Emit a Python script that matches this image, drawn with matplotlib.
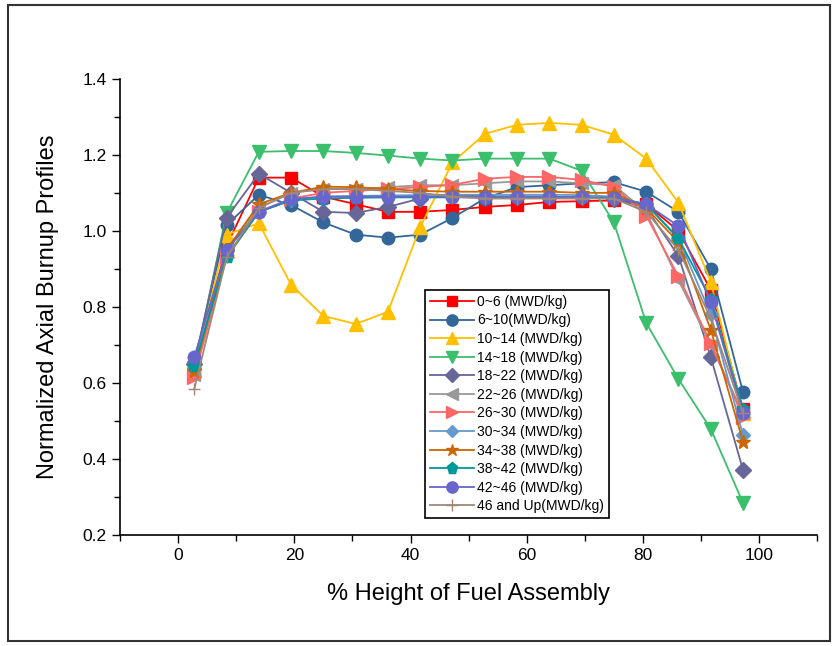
import numpy as np
import matplotlib.pyplot as plt
from matplotlib.patches import Rectangle
from matplotlib.ticker import MultipleLocator

plt.rcParams['font.family'] = ['Liberation Sans', 'DejaVu Sans']

# axial node centres, % of assembly height (18 nodes)
height = [2.78, 8.33, 13.89, 19.44, 25.0, 30.56, 36.11, 41.67, 47.22,
          52.78, 58.33, 63.89, 69.44, 75.0, 80.56, 86.11, 91.67, 97.22]

labels = ['0~6 (MWD/kg)', '6~10(MWD/kg)', '10~14 (MWD/kg)', '14~18 (MWD/kg)',
          '18~22 (MWD/kg)', '22~26 (MWD/kg)', '26~30 (MWD/kg)', '30~34 (MWD/kg)',
          '34~38 (MWD/kg)', '38~42 (MWD/kg)', '42~46 (MWD/kg)', '46 and Up(MWD/kg)']

b_0_6 = [0.63, 0.96, 1.14, 1.14, 1.09, 1.07, 1.05, 1.05, 1.055,
         1.063, 1.068, 1.076, 1.078, 1.08, 1.07, 1.00, 0.845, 0.53]
b_6_10 = [0.65, 1.015, 1.095, 1.068, 1.022, 0.99, 0.982, 0.99, 1.034,
          1.085, 1.115, 1.12, 1.125, 1.128, 1.103, 1.05, 0.90, 0.576]
b_10_14 = [0.64, 0.99, 1.02, 0.858, 0.776, 0.755, 0.787, 1.01, 1.18,
           1.255, 1.279, 1.284, 1.279, 1.253, 1.19, 1.074, 0.866, 0.52]
b_14_18 = [0.64, 1.046, 1.208, 1.21, 1.21, 1.205, 1.198, 1.19, 1.185,
           1.19, 1.19, 1.19, 1.158, 1.022, 0.758, 0.61, 0.479, 0.284]
b_18_22 = [0.65, 1.034, 1.15, 1.10, 1.05, 1.047, 1.063, 1.085, 1.095,
           1.09, 1.09, 1.09, 1.088, 1.085, 1.06, 0.934, 0.668, 0.371]
b_22_26 = [0.62, 0.95, 1.06, 1.10, 1.11, 1.11, 1.115, 1.12, 1.12,
           1.125, 1.13, 1.13, 1.125, 1.12, 1.05, 0.87, 0.70, 0.52]
b_26_30 = [0.616, 0.93, 1.05, 1.085, 1.10, 1.105, 1.11, 1.115, 1.121,
           1.137, 1.142, 1.142, 1.134, 1.116, 1.04, 0.88, 0.705, 0.51]
b_30_34 = [0.64, 0.95, 1.05, 1.08, 1.09, 1.092, 1.093, 1.094, 1.095,
           1.095, 1.095, 1.095, 1.094, 1.09, 1.07, 0.98, 0.78, 0.463]
b_34_38 = [0.63, 0.95, 1.07, 1.10, 1.116, 1.115, 1.11, 1.105, 1.103,
           1.103, 1.103, 1.103, 1.10, 1.10, 1.06, 0.97, 0.74, 0.445]
b_38_42 = [0.645, 0.93, 1.05, 1.08, 1.085, 1.087, 1.088, 1.088, 1.088,
           1.088, 1.088, 1.088, 1.088, 1.087, 1.07, 0.98, 0.82, 0.53]
b_42_46 = [0.668, 0.95, 1.05, 1.084, 1.09, 1.09, 1.09, 1.09, 1.09,
           1.09, 1.09, 1.09, 1.088, 1.087, 1.07, 1.013, 0.813, 0.52]
b_46_up = [0.584, 0.93, 1.06, 1.10, 1.11, 1.11, 1.105, 1.10, 1.09,
           1.085, 1.085, 1.085, 1.085, 1.085, 1.05, 0.95, 0.77, 0.52]

series = [b_0_6, b_6_10, b_10_14, b_14_18, b_18_22, b_22_26,
          b_26_30, b_30_34, b_34_38, b_38_42, b_42_46, b_46_up]

colors = ['#ff0000', '#336699', '#ffc000', '#3cbf6c', '#666699', '#999999',
          '#ff6666', '#6699cc', '#cc6600', '#009999', '#6666cc', '#a08878']
markers = ['s', 'o', '^', 'v', 'D', '<', '>', 'D', '*', 'p', 'o', '+']
msizes = [8, 9, 10, 10, 8, 9, 10, 7, 10, 9, 9, 9]

fig = plt.figure(figsize=(8.37, 6.46), dpi=100)
fig.patches.append(Rectangle((0.010, 0.007), 0.982, 0.985, transform=fig.transFigure,
                             fill=False, edgecolor='#333333', linewidth=1.5))
ax = fig.add_axes([0.1434, 0.172, 0.833, 0.706])

for ys, c, m, s, lab in zip(series, colors, markers, msizes, labels):
    ax.plot(height, ys, color=c, marker=m, markersize=s, markeredgecolor=c,
            linewidth=1.3, label=lab)

ax.set_xlim(-10, 110)
ax.set_ylim(0.2, 1.4)
ax.xaxis.set_major_locator(MultipleLocator(20))
ax.xaxis.set_minor_locator(MultipleLocator(10))
ax.yaxis.set_major_locator(MultipleLocator(0.2))
ax.yaxis.set_minor_locator(MultipleLocator(0.1))
ax.yaxis.set_major_formatter(plt.FormatStrFormatter('%.1f'))
ax.tick_params(which='major', direction='out', length=6, width=1, labelsize=12.5)
ax.tick_params(which='minor', direction='out', length=4, width=1)
ax.spines['top'].set_visible(False)
ax.spines['right'].set_visible(False)
ax.spines['left'].set_linewidth(1.2)
ax.spines['bottom'].set_linewidth(1.2)

ax.set_xlabel('% Height of Fuel Assembly', fontsize=17, labelpad=14)
ax.set_ylabel('Normalized Axial Burnup Profiles', fontsize=17, labelpad=17)

leg = ax.legend(loc='upper left', bbox_to_anchor=(0.437, 0.537), fontsize=10,
                frameon=True, fancybox=False, edgecolor='black', framealpha=1,
                handlelength=3.2, handletextpad=0.2, labelspacing=0.33,
                borderpad=0.35, borderaxespad=0, markerscale=0.9)
leg.get_frame().set_linewidth(1.2)

fig.savefig('out.png', dpi=100)
